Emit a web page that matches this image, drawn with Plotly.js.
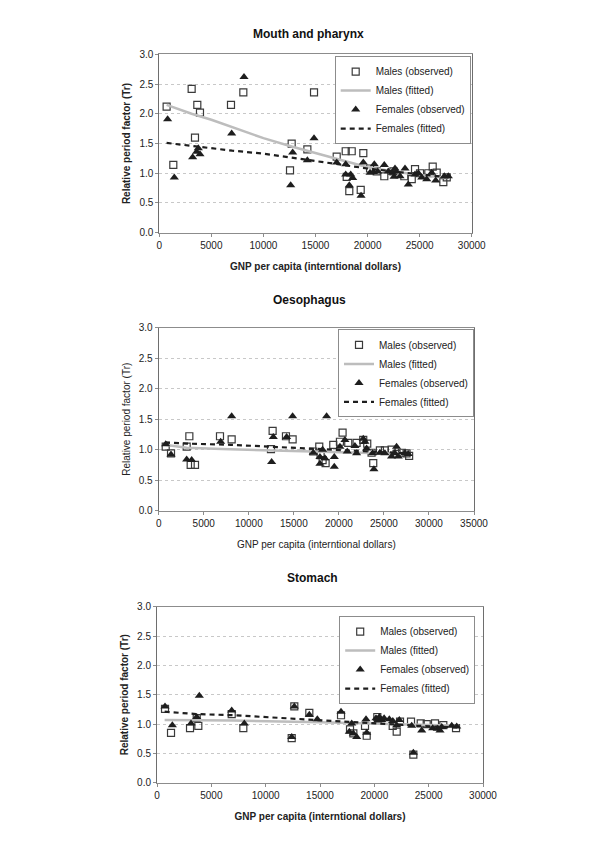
<!DOCTYPE html>
<html>
<head>
<meta charset="utf-8">
<script src="https://cdn.plot.ly/plotly-3.0.1.min.js"></script>
<style>html,body{margin:0;padding:0;background:#fff;}#chart{width:600px;height:849px;}</style>
</head>
<body>
<div id="chart"></div>
<script>
// ---------- Mouth and pharynx ----------
const mouthMaleX = [704,1345,3106,3426,3650,3906,6884,8069,12552,12712,14217,14857,17035,17900,17996,18245,18380,18476,19340,19590,20237,20878,21606,22478,23527,24240,24555,25035,25832,26254,26638,27273,27601];
const mouthMaleY = [2.12,1.14,2.42,1.60,2.15,2.02,2.15,2.36,1.05,1.50,1.40,2.36,1.28,1.37,0.94,0.70,1.66,1.37,0.72,1.34,1.08,1.03,0.95,1.03,0.95,0.90,1.07,1.00,1.00,1.11,1.01,0.85,0.93];
const mouthFemaleX = [800,1441,3202,3586,3746,3906,6948,8133,12616,12808,14217,14857,17035,17900,17900,18245,18380,18572,19372,19590,20237,20557,20645,20974,21606,21990,22376,22542,22634,22762,23114,23594,23911,24555,24880,25200,25680,26157,26542,27370,27753];
const mouthFemaleY = [1.91,0.93,1.27,1.36,1.42,1.32,1.67,2.62,0.80,1.35,1.22,1.59,1.18,1.15,0.98,0.80,0.98,0.92,0.62,1.18,1.01,1.02,1.15,1.03,1.14,1.03,1.01,0.94,1.08,1.03,0.95,1.08,0.81,0.98,1.00,0.93,0.90,1.01,0.88,0.95,0.95];
const mouthMaleFitX = [700,3100,5000,7000,10000,12700,15000,17000,20000,22500,25000,27800];
const mouthMaleFitY = [2.15,2.00,1.90,1.78,1.59,1.45,1.34,1.24,1.10,1.03,0.97,0.92];
const mouthFemaleFitX = [700,3500,7000,10000,12700,15000,17000,20000,22500,25000,27800];
const mouthFemaleFitY = [1.51,1.45,1.38,1.33,1.26,1.20,1.16,1.08,1.03,0.98,0.93];

// ---------- Oesophagus ----------
const oesoMaleX = [777,1368,3106,3402,3550,4031,6804,8098,12462,12647,14127,14866,17159,17824,17972,18194,18527,19378,20117,20413,21041,21966,22706,23150,23630,23815,24554,25109,25850,26400,27000,27513,27800];
const oesoMaleY = [1.05,0.94,1.05,1.22,0.75,0.75,1.22,1.17,1.01,1.31,1.22,1.17,0.97,1.05,0.91,0.83,0.78,1.08,1.13,1.28,1.11,1.11,1.16,1.10,0.95,0.78,0.99,0.99,1.00,0.93,0.95,0.94,0.90];
const oesoFemaleX = [777,1368,3106,3661,6878,8098,12536,12721,14200,14866,17159,17898,17898,18194,18453,18638,19489,19489,20117,20672,20931,21781,21966,22706,22891,23076,23741,23889,24554,25109,25849,26219,26404,26589,27329,27698];
const oesoFemaleY = [1.09,0.92,0.84,0.83,1.13,1.55,0.80,1.21,1.21,1.55,0.95,0.88,0.77,1.00,0.86,1.55,0.88,0.72,1.05,1.16,0.97,1.06,0.94,1.18,1.13,1.02,0.94,0.68,0.95,0.94,0.89,0.94,1.05,0.89,0.94,0.93];
const oesoMaleFitX = [700,3100,7000,12400,17000,20000,24000,27800];
const oesoMaleFitY = [1.08,1.03,1.01,0.99,0.98,0.97,0.95,0.93];
const oesoFemaleFitX = [700,3100,8000,12500,17000,20000,24000,27800];
const oesoFemaleFitY = [1.12,1.10,1.08,1.05,1.02,1.00,0.97,0.94];

// ---------- Stomach ----------
const stomMaleX = [736,1288,3037,3654,3801,6874,7942,12396,12636,14016,16934,17762,18068,19142,19298,20274,21690,22058,22363,23375,23590,24268,24820,25584,26348,27517];
const stomMaleY = [1.26,0.85,0.93,1.10,0.97,1.17,0.93,0.76,1.30,1.19,1.15,0.91,0.84,0.97,0.80,1.12,0.97,0.87,1.04,1.04,0.48,1.01,1.00,1.01,0.98,0.93];
const stomFemaleX = [736,1411,3129,3654,3893,6874,8034,12396,12636,14016,14752,16934,17697,17916,18068,18377,19234,19298,20154,20300,20459,20680,20900,21379,21700,22058,22299,23440,23590,24360,25372,25796,26044,26200,27121,27580];
const stomFemaleY = [1.30,0.98,1.01,1.12,1.48,1.23,1.01,0.78,1.30,1.16,1.08,1.21,0.87,1.01,0.84,0.78,1.08,0.85,1.10,1.06,1.12,1.07,1.10,1.08,1.05,0.98,1.07,0.97,0.51,0.89,0.93,0.92,0.89,0.95,0.97,0.96];
const stomMaleFitX = [700,7000,15000,20000,24000,27800];
const stomMaleFitY = [1.07,1.06,1.03,1.01,0.99,0.97];
const stomFemaleFitX = [700,3600,7000,12600,15000,17000,20000,24000,27800];
const stomFemaleFitY = [1.21,1.17,1.15,1.09,1.06,1.04,1.01,0.97,0.94];

const panelTitles = ["Mouth and pharynx", "Oesophagus", "Stomach"];
const xTitle = "GNP per capita (interntional dollars)";
const yTitle = "Relative period factor (Tr)";
const seriesNames = ["Males (observed)", "Males (fitted)", "Females (observed)", "Females (fitted)"];

const FONT = "Liberation Sans, Arial, Helvetica, sans-serif";

function panelTraces(n, mx, my, fx, fy, mfx, mfy, ffx, ffy) {
  const xa = n === 1 ? 'x' : 'x' + n;
  const ya = n === 1 ? 'y' : 'y' + n;
  const lg = n === 1 ? 'legend' : 'legend' + n;
  return [
    {x: mx, y: my, xaxis: xa, yaxis: ya, legend: lg, name: seriesNames[0], type: 'scatter', mode: 'markers',
     marker: {symbol: 'square-open', size: 7, color: '#3a3a3a', line: {width: 1.2}}, cliponaxis: false},
    {x: mfx, y: mfy, xaxis: xa, yaxis: ya, legend: lg, name: seriesNames[1], type: 'scatter', mode: 'lines',
     line: {color: '#bdbdbd', width: 2.5}},
    {x: fx, y: fy, xaxis: xa, yaxis: ya, legend: lg, name: seriesNames[2], type: 'scatter', mode: 'markers',
     marker: {symbol: 'triangle-up', size: 8, color: '#1e1e1e'}, cliponaxis: false},
    {x: ffx, y: ffy, xaxis: xa, yaxis: ya, legend: lg, name: seriesNames[3], type: 'scatter', mode: 'lines',
     line: {color: '#1e1e1e', width: 2.2, dash: '5px,4px'}}
  ];
}

const data = [].concat(
  panelTraces(1, mouthMaleX, mouthMaleY, mouthFemaleX, mouthFemaleY, mouthMaleFitX, mouthMaleFitY, mouthFemaleFitX, mouthFemaleFitY),
  panelTraces(2, oesoMaleX, oesoMaleY, oesoFemaleX, oesoFemaleY, oesoMaleFitX, oesoMaleFitY, oesoFemaleFitX, oesoFemaleFitY),
  panelTraces(3, stomMaleX, stomMaleY, stomFemaleX, stomFemaleY, stomMaleFitX, stomMaleFitY, stomFemaleFitX, stomFemaleFitY)
);

function xAxis(domain, max, anchor, bold) {
  return {
    domain: domain, range: [0, max], dtick: 5000, tick0: 0, anchor: anchor, tickformat: 'd',
    showgrid: false, zeroline: false, showline: true, linecolor: '#8c8c8c', linewidth: 1, mirror: true,
    ticks: 'outside', ticklen: 3, tickcolor: '#8c8c8c',
    tickfont: {family: FONT, size: 10, color: '#222'},
    title: {text: bold ? '<b>' + xTitle + '</b>' : xTitle, font: {family: FONT, size: 10, color: '#222'}, standoff: 13}
  };
}
function yAxis(domain, anchor, bold) {
  return {
    domain: domain, range: [0, 3], dtick: 0.5, tick0: 0, anchor: anchor, tickformat: '.1f',
    showgrid: true, gridcolor: '#c8c8c8', griddash: '3px,3px', gridwidth: 1,
    zeroline: false, showline: true, linecolor: '#6e6e6e', linewidth: 1, mirror: true,
    ticks: 'outside', ticklen: 3, tickcolor: '#8c8c8c',
    tickfont: {family: FONT, size: 10, color: '#222'},
    title: {text: bold ? '<b>' + yTitle + '</b>' : yTitle, font: {family: FONT, size: 10, color: '#222'}, standoff: 6}
  };
}
function legendAt(xr, ytop) {
  return {
    x: xr, xanchor: 'right', y: ytop, yanchor: 'top', xref: 'paper', yref: 'paper',
    bgcolor: '#ffffff', bordercolor: '#8c8c8c', borderwidth: 1,
    font: {family: FONT, size: 10, color: '#222'}, tracegroupgap: 0, itemwidth: 30
  };
}

const layout = {
  width: 600, height: 849,
  margin: {l: 0, r: 0, t: 0, b: 0},
  paper_bgcolor: '#ffffff', plot_bgcolor: '#ffffff',
  font: {family: FONT, size: 10, color: '#222'},
  showlegend: true,
  xaxis: xAxis([0.2655, 0.7862], 30000, 'y', true),
  yaxis: yAxis([0.7259, 0.9360], 'x', true),
  xaxis2: xAxis([0.2645, 0.7900], 35000, 'y2', false),
  yaxis2: yAxis([0.3985, 0.6140], 'x2', false),
  xaxis3: xAxis([0.2617, 0.8050], 30000, 'y3', true),
  yaxis3: yAxis([0.0781, 0.2854], 'x3', true),
  legend: legendAt(0.7845, 0.934),
  legend2: legendAt(0.790, 0.612),
  legend3: legendAt(0.792, 0.2744),
  annotations: [
    {text: '<b>' + panelTitles[0] + '</b>', x: 0.514, y: 0.9596, xref: 'paper', yref: 'paper', showarrow: false,
     xanchor: 'center', yanchor: 'middle', font: {family: FONT, size: 12, color: '#111'}},
    {text: '<b>' + panelTitles[1] + '</b>', x: 0.515, y: 0.6466, xref: 'paper', yref: 'paper', showarrow: false,
     xanchor: 'center', yanchor: 'middle', font: {family: FONT, size: 12, color: '#111'}},
    {text: '<b>' + panelTitles[2] + '</b>', x: 0.520, y: 0.3192, xref: 'paper', yref: 'paper', showarrow: false,
     xanchor: 'center', yanchor: 'middle', font: {family: FONT, size: 12, color: '#111'}}
  ]
};

Plotly.newPlot('chart', data, layout, {displayModeBar: false, staticPlot: true});
</script>
</body>
</html>
